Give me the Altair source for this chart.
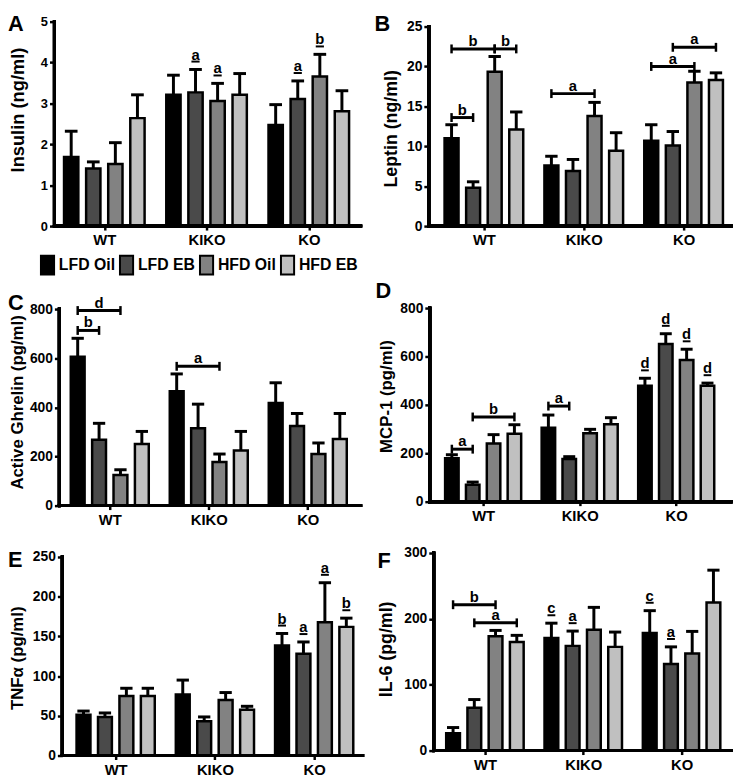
import json
import altair as alt
import pandas as pd

FONT = "Liberation Sans"

groups = ["WT", "KIKO", "KO"]
treatments = ["LFD Oil", "LFD EB", "HFD Oil", "HFD EB"]
bar_colors = ["#000000", "#4a4a4a", "#828282", "#c0c0c0"]

# bar values, ordered WT (4 treatments), KIKO (4), KO (4)
insulin_mean = [1.69, 1.41, 1.52, 2.64, 3.21, 3.27, 3.06, 3.21, 2.47, 3.11, 3.66, 2.81]
insulin_sem = [0.63, 0.16, 0.52, 0.57, 0.48, 0.56, 0.43, 0.52, 0.50, 0.44, 0.54, 0.50]
leptin_mean = [11.0, 4.8, 19.35, 12.1, 7.6, 6.9, 13.8, 9.45, 10.7, 10.1, 18.0, 18.3]
leptin_sem = [1.7, 0.75, 1.9, 2.2, 1.15, 1.45, 1.7, 2.25, 2.0, 1.75, 1.4, 0.9]
ghrelin_mean = [606, 268, 125, 251, 466, 315, 178, 224, 418, 324, 210, 271]
ghrelin_sem = [75, 67, 21, 51, 70, 98, 32, 78, 82, 51, 45, 104]
mcp1_mean = [179, 70, 240, 281, 306, 176, 283, 320, 479, 652, 585, 479]
mcp1_sem = [15, 11, 37, 37, 52, 10, 16, 27, 31, 42, 45, 11]
tnfa_mean = [51.5, 48.6, 75, 75, 76.8, 43.2, 70, 57.7, 138.7, 128.3, 167.8, 162]
tnfa_sem = [4.5, 5, 9.7, 9.7, 18.2, 5.4, 9.3, 4.3, 15, 14.7, 49.8, 11]
il6_mean = [26.5, 65, 173.5, 165, 171, 159, 183.5, 157.5, 178.5, 131.5, 147.5, 225]
il6_sem = [8.5, 12.5, 9, 10, 22.5, 22.5, 34, 22.5, 34, 26, 33.5, 49]

# underlined significance letters: (group, treatment, letter)
insulin_marks = [("KIKO", "LFD EB", "a"), ("KIKO", "HFD Oil", "a"),
                 ("KO", "LFD EB", "a"), ("KO", "HFD Oil", "b")]
mcp1_marks = [("KO", "LFD Oil", "d"), ("KO", "LFD EB", "d"),
              ("KO", "HFD Oil", "d"), ("KO", "HFD EB", "d")]
tnfa_marks = [("KO", "LFD Oil", "b"), ("KO", "LFD EB", "a"),
              ("KO", "HFD Oil", "a"), ("KO", "HFD EB", "b")]
il6_marks = [("KIKO", "LFD Oil", "c"), ("KIKO", "LFD EB", "a"),
             ("KO", "LFD Oil", "c"), ("KO", "LFD EB", "a")]

# comparison brackets: (group, from treatment, to treatment, level, letter)
leptin_brackets = [("WT", "LFD Oil", "LFD EB", 13.6, "b"),
                   ("WT", "LFD Oil", "HFD Oil", 22.2, "b"),
                   ("WT", "HFD Oil", "HFD EB", 22.2, "b"),
                   ("KIKO", "LFD Oil", "HFD Oil", 16.6, "a"),
                   ("KO", "LFD Oil", "HFD Oil", 20.0, "a"),
                   ("KO", "LFD EB", "HFD EB", 22.4, "a")]
ghrelin_brackets = [("WT", "LFD Oil", "HFD Oil", 794, "d"),
                    ("WT", "LFD Oil", "LFD EB", 713, "b"),
                    ("KIKO", "LFD Oil", "HFD Oil", 567, "a")]
mcp1_brackets = [("WT", "LFD Oil", "LFD EB", 217, "a"),
                 ("WT", "LFD EB", "HFD EB", 350, "b"),
                 ("KIKO", "LFD Oil", "LFD EB", 395, "a")]
il6_brackets = [("WT", "LFD Oil", "HFD Oil", 221.5, "b"),
                ("WT", "LFD EB", "HFD EB", 194, "a")]

PITCH = 0.216
HALF_BAR = 0.07
HALF_CAP = 0.062
HALF_UL = 0.04


def pos(g, t):
    return groups.index(g) + (treatments.index(t) - 1.5) * PITCH


def panel(letter, ytitle, means, sems, ymax, ystep, marks, brackets, w, h, xdom,
          axis_shift, top_pad, lpos, title_x, title_y, title_size, label_size, legend=False):
    """axis_shift: px from the plot's left edge to the y axis line;
    top_pad: px of plot area above the top tick."""
    rows = []
    k = 0
    for g in groups:
        for t in treatments:
            xc = pos(g, t)
            rows.append(dict(group=g, treatment=t, mean=means[k], top=means[k] + sems[k],
                             xc=xc, x0=xc - HALF_BAR, x1=xc + HALF_BAR,
                             c0=xc - HALF_CAP, c1=xc + HALF_CAP))
            k += 1
    df = pd.DataFrame(rows)

    ppu = w / (xdom[1] - xdom[0])
    x_axis_start = xdom[0] + axis_shift / ppu
    y_ext = ymax * h / (h - top_pad)

    xs = alt.Scale(domain=xdom, nice=False, zero=False)
    ys = alt.Scale(domain=[0, y_ext], nice=False, zero=True)
    x_axis = alt.Axis(values=list(range(len(groups))),
                      labelExpr=json.dumps(groups) + "[datum.value]",
                      title=None, tickSize=4, tickWidth=2.5, domain=False,
                      labelFontSize=15, labelPadding=3, labelFlush=False, grid=False)
    y_axis = alt.Axis(values=list(range(0, int(ymax) + 1, ystep)), title=ytitle, tickSize=5,
                      tickWidth=2.5, domain=False, labelFontSize=label_size, labelPadding=2,
                      titleFontSize=title_size, titleX=title_x, titleY=title_y, grid=False,
                      labelFlush=False, format="d", offset=-axis_shift)

    def X(f):
        return alt.X(f, scale=xs, axis=x_axis)

    def Y(f):
        return alt.Y(f, scale=ys, axis=y_axis)

    if legend:
        leg = alt.Legend(orient="none", legendX=-17.5, legendY=236, direction="horizontal",
                         title=None, symbolType="M-0.7,-1H0.7V1H-0.7Z",
                         symbolSize=361, symbolStrokeColor="black", symbolStrokeWidth=2,
                         symbolOpacity=1, labelFont=FONT, labelFontSize=16,
                         labelFontWeight="bold", labelColor="black", labelOffset=1,
                         columnPadding=0, padding=0, labelLimit=200)
    else:
        leg = None

    layers = []
    layers.append(alt.Chart(df).mark_rect(stroke="black", strokeWidth=2.5).encode(
        x=X("x0:Q"),
        x2="x1:Q",
        y=Y("mean:Q"),
        y2=alt.datum(0),
        color=alt.Color("treatment:N", scale=alt.Scale(domain=treatments, range=bar_colors),
                        legend=leg),
    ))
    layers.append(alt.Chart(df).mark_rule(color="black", strokeWidth=3).encode(
        x=X("xc:Q"), y=Y("mean:Q"), y2="top:Q"))
    layers.append(alt.Chart(df).mark_rule(color="black", strokeWidth=3).encode(
        x=X("c0:Q"), x2="c1:Q", y=Y("top:Q")))

    # axis lines
    layers.append(alt.Chart(df).mark_rule(color="black", strokeWidth=3, strokeCap="square").encode(
        x=alt.X(datum=x_axis_start, scale=xs, axis=x_axis),
        y=alt.Y(datum=0, scale=ys, axis=y_axis),
        y2=alt.datum(ymax)))
    layers.append(alt.Chart(df).mark_rule(color="black", strokeWidth=3, strokeCap="square").encode(
        x=alt.X(datum=x_axis_start, scale=xs, axis=x_axis),
        x2=alt.datum(xdom[1]),
        y=alt.Y(datum=0, scale=ys, axis=y_axis)))

    if marks:
        mrows = []
        for g, t, lt in marks:
            r = df[(df.group == g) & (df.treatment == t)].iloc[0]
            mrows.append(dict(xc=r.xc, u0=r.xc - HALF_UL, u1=r.xc + HALF_UL, top=r.top, lt=lt))
        mdf = pd.DataFrame(mrows)
        layers.append(alt.Chart(mdf).mark_text(
            font=FONT, fontSize=15, fontWeight="bold", color="black",
            baseline="alphabetic", dy=-10).encode(
            x=X("xc:Q"), y=Y("top:Q"), text="lt:N"))
        layers.append(alt.Chart(mdf).mark_rule(color="black", strokeWidth=2, yOffset=-8).encode(
            x=X("u0:Q"), x2="u1:Q", y=Y("top:Q")))

    if brackets:
        brows = []
        for g, t1, t2, lev, lt in brackets:
            a, b = pos(g, t1), pos(g, t2)
            brows.append(dict(xa=a, xb=b, xm=(a + b) / 2, level=lev, lt=lt))
        bdf = pd.DataFrame(brows)
        layers.append(alt.Chart(bdf).mark_rule(color="black", strokeWidth=3).encode(
            x=X("xa:Q"), x2="xb:Q", y=Y("level:Q")))
        for fld in ["xa", "xb"]:
            layers.append(alt.Chart(bdf).mark_tick(
                orient="vertical", size=9, thickness=2.5, color="black", opacity=1).encode(
                x=X(fld + ":Q"), y=Y("level:Q")))
        layers.append(alt.Chart(bdf).mark_text(
            font=FONT, fontSize=15, fontWeight="bold", color="black",
            baseline="alphabetic", dy=-3).encode(
            x=X("xm:Q"), y=Y("level:Q"), text="lt:N"))

    layers.append(alt.Chart(pd.DataFrame({"t": [letter]})).mark_text(
        font=FONT, fontSize=22, fontWeight="bold", color="black",
        align="left", baseline="alphabetic").encode(
        text="t:N", x=alt.value(lpos[0]), y=alt.value(lpos[1])))

    return alt.layer(*layers).properties(width=w, height=h)


pA = panel("A", "Insulin (ng/ml)", insulin_mean, insulin_sem, 5, 1, insulin_marks, [],
           310, 207, [-0.488, 2.507], 0, 0, (-47, 9), -27, 89, 18.5, 13, legend=True)
pB = panel("B", "Leptin (ng/ml)", leptin_mean, leptin_sem, 25, 5, [], leptin_brackets,
           306, 207, [-0.552, 2.475], 0, 5, (-55, 9), -29, 108, 18, 14)
pC = panel("C", "Active Ghrelin (pg/ml)", ghrelin_mean, ghrelin_sem, 800, 200, [],
           ghrelin_brackets, 310, 199, [-0.559, 2.534], 5, 0, (-47, 1), -33, 94, 17, 14)
pD = panel("D", "MCP-1 (pg/ml)", mcp1_mean, mcp1_sem, 800, 200, mcp1_marks, mcp1_brackets,
           306, 196, [-0.563, 2.568], 1, 0, (-54, -10), -35, 89, 17, 14)
pE = panel("E", "TNF\u03b1 (pg/ml)", tnfa_mean, tnfa_sem, 250, 50, tnfa_marks, [],
           312, 201, [-0.617, 2.488], 8, 0, (-47, 10), -36, 102, 17, 14)
pF = panel("F", "IL-6 (pg/ml)", il6_mean, il6_sem, 300, 100, il6_marks, il6_brackets,
           306, 200, [-0.571, 2.503], 5, 0, (-52, 15), -39, 97, 18, 14)


def col(a, b, s):
    return alt.concat(a, b, columns=1, spacing=s, align="none").resolve_scale(
        color="independent").resolve_legend(color="independent")


left = col(col(pA, pC, 14), pE, 22)
right = col(col(pB, pD, 33), pF, 23)

chart = alt.concat(left, right, columns=2, spacing=9, align="none").resolve_scale(
    color="independent").resolve_legend(color="independent").properties(
    padding=0
).configure_view(stroke=None).configure_axis(
    labelFont=FONT, titleFont=FONT, labelFontWeight="bold", titleFontWeight="bold",
    labelColor="black", titleColor="black", domainColor="black", tickColor="black",
    grid=False
)

chart.save("out.html", embed_options={"renderer": "svg", "actions": False})
